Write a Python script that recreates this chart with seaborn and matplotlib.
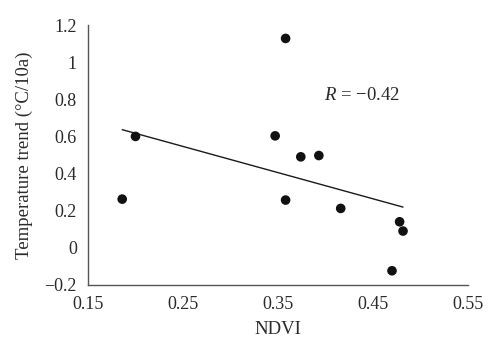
import numpy as np
import pandas as pd
import matplotlib
matplotlib.use("Agg")
import matplotlib.pyplot as plt
import seaborn as sns

ndvi = [0.186, 0.200, 0.347, 0.358, 0.358, 0.374, 0.393, 0.416, 0.470, 0.478, 0.4816]
trend = [0.262, 0.600, 0.603, 1.128, 0.257, 0.490, 0.497, 0.212, -0.124, 0.140, 0.090]
xticks = [0.15, 0.25, 0.35, 0.45, 0.55]
yticks = [-0.2, 0, 0.2, 0.4, 0.6, 0.8, 1, 1.2]
ytick_labels = ["\u22120.2", "0", "0.2", "0.4", "0.6", "0.8", "1", "1.2"]

df = pd.DataFrame({"NDVI": ndvi, "trend": trend})

sns.set_style("white")
plt.rcParams['font.family'] = ['Liberation Serif', 'DejaVu Serif']
plt.rcParams['mathtext.fontset'] = 'custom'
plt.rcParams['mathtext.it'] = 'Liberation Serif:italic'
plt.rcParams['mathtext.rm'] = 'Liberation Serif'

fig = plt.figure(figsize=(5.0, 3.53), dpi=100)
ax = fig.add_axes([0.176, 0.193, 0.76, 0.736])

sns.regplot(data=df, x="NDVI", y="trend", ax=ax, ci=None,
            scatter_kws=dict(s=48, color="#111111", edgecolor="none", alpha=1, zorder=3),
            line_kws=dict(color="#1a1a1a", lw=1.0))

ax.set_xlim(0.15, 0.55)
ax.set_ylim(-0.2, 1.2)
ax.set_xticks(xticks)
ax.set_xticklabels([f"{t:.2f}" for t in xticks])
ax.set_yticks(yticks)
ax.set_yticklabels(ytick_labels)
for s in ["top", "right"]:
    ax.spines[s].set_visible(False)
for s in ["left", "bottom"]:
    ax.spines[s].set_color("#555555")
    ax.spines[s].set_linewidth(1.0)
ax.tick_params(axis="both", direction="out", length=5, width=1, color="#555555",
               labelsize=13, labelcolor="#2a2a2a", pad=3)
ax.set_xlabel("NDVI", fontsize=13.5, color="#2a2a2a", labelpad=6)
ax.set_ylabel("Temperature trend (°C/10a)", fontsize=13.5, color="#2a2a2a", labelpad=8)

ax.text(0.398, 0.82, "$R$ = \u22120.42", fontsize=13.5, color="#2a2a2a",
        va="center", ha="left")

fig.savefig("out.png", dpi=100)
